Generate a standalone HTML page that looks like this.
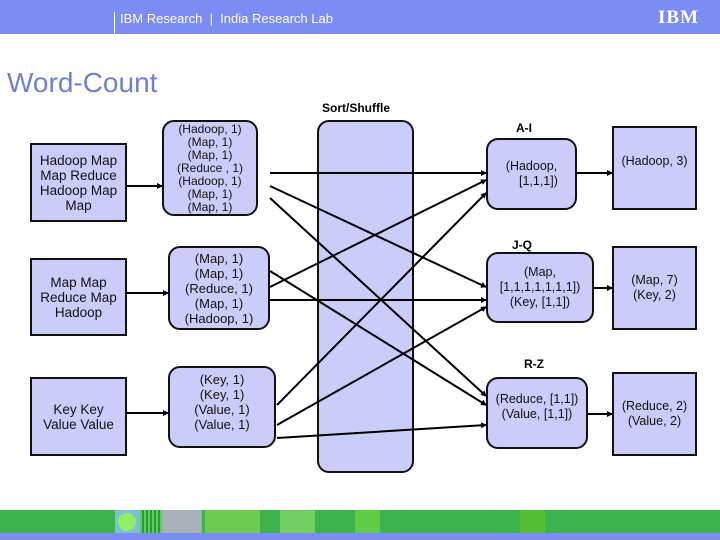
<!DOCTYPE html>
<html><head><meta charset="utf-8"><style>
body{margin:0;width:720px;height:540px;background:#fff;position:relative;overflow:hidden;font-family:"Liberation Sans",sans-serif}
.hdr{position:absolute;left:0;top:0;width:720px;height:34px;background:#7b8cf5}
.ht{position:absolute;left:120px;top:11px;color:#fff;font-size:13px}
.vl{position:absolute;left:114px;top:12px;width:1px;height:22px;background:#fff}
.ibm{position:absolute;left:658px;top:7px;color:#fff;font:bold 19px "Liberation Serif",serif;letter-spacing:1px}
.title{position:absolute;left:7px;top:67px;font-size:28px;color:#7080d0}
.b{position:absolute;box-sizing:border-box;border:2px solid #111;background:#ccccfb;display:flex;align-items:center;justify-content:center;text-align:center;font-size:12.5px;line-height:15px;color:#111}
.lb{font-size:13.5px;line-height:15px}
.r{border-radius:12px}
.lbl{position:absolute;font-weight:bold;font-size:12px;color:#000}
.g{position:absolute;left:0;top:510px;width:720px;height:23px;background:#3bb24a}
.bb{position:absolute;left:0;top:533px;width:720px;height:7px;background:#7b8cf5}
</style></head><body>
<div class="hdr"></div><div class="vl"></div>
<div class="ht">IBM Research &nbsp;|&nbsp; India Research Lab</div>
<div class="ibm">IBM</div>
<div class="title">Word-Count</div>
<div class="lbl" style="left:322px;top:101px">Sort/Shuffle</div>
<div class="b r" style="left:317px;top:120px;width:97px;height:353px"></div>

<div class="b lb" style="left:30px;top:143px;width:97px;height:79px">Hadoop Map<br>Map Reduce<br>Hadoop Map<br>Map</div>
<div class="b lb" style="left:30px;top:258px;width:97px;height:78px">Map Map<br>Reduce Map<br>Hadoop</div>
<div class="b lb" style="left:30px;top:377px;width:97px;height:79px">Key Key<br>Value Value</div>

<div class="b r" style="left:162px;top:120px;width:96px;height:96px;font-size:12px;line-height:13px">(Hadoop, 1)<br>(Map, 1)<br>(Map, 1)<br>(Reduce , 1)<br>(Hadoop, 1)<br>(Map, 1)<br>(Map, 1)</div>
<div class="b r" style="left:168px;top:246px;width:102px;height:84px;font-size:13px">(Map, 1)<br>(Map, 1)<br>(Reduce, 1)<br>(Map, 1)<br>(Hadoop, 1)</div>
<div class="b r" style="left:168px;top:366px;width:108px;height:82px;align-items:flex-start;padding-top:4px;font-size:13px">(Key, 1)<br>(Key, 1)<br>(Value, 1)<br>(Value, 1)</div>

<div class="lbl" style="left:516px;top:121px">A-I</div>
<div class="lbl" style="left:512px;top:238px">J-Q</div>
<div class="lbl" style="left:524px;top:357px">R-Z</div>
<div class="b r" style="left:486px;top:138px;width:91px;height:72px">(Hadoop,<br>&nbsp;&nbsp;&nbsp;&nbsp;[1,1,1])</div>
<div class="b r" style="left:486px;top:252px;width:108px;height:71px">(Map,<br>[1,1,1,1,1,1,1])<br>(Key, [1,1])</div>
<div class="b r" style="left:486px;top:377px;width:102px;height:72px;align-items:flex-start;padding-top:13px">(Reduce, [1,1])<br>(Value, [1,1])</div>

<div class="b" style="left:612px;top:126px;width:85px;height:84px;align-items:flex-start;padding-top:26px">(Hadoop, 3)</div>
<div class="b" style="left:612px;top:246px;width:85px;height:84px">(Map, 7)<br>(Key, 2)</div>
<div class="b" style="left:612px;top:372px;width:85px;height:84px">(Reduce, 2)<br>(Value, 2)</div>

<svg style="position:absolute;left:0;top:0" width="720" height="540">
<defs><marker id="a" markerWidth="6" markerHeight="6" refX="5" refY="3" orient="auto" markerUnits="userSpaceOnUse"><path d="M0,0L6,3L0,6z" fill="#000"/></marker></defs>
<g stroke="#000" stroke-width="2" marker-end="url(#a)">
<line x1="127" y1="186" x2="162" y2="186"/>
<line x1="127" y1="293" x2="168" y2="293"/>
<line x1="127" y1="413" x2="168" y2="413"/>
<line x1="270" y1="173" x2="486" y2="173"/>
<line x1="270" y1="186" x2="486" y2="287"/>
<line x1="270" y1="198" x2="486" y2="396"/>
<line x1="270" y1="271" x2="486" y2="405"/>
<line x1="270" y1="287" x2="486" y2="180"/>
<line x1="270" y1="300" x2="486" y2="300"/>
<line x1="277" y1="405" x2="486" y2="193"/>
<line x1="277" y1="425" x2="486" y2="307"/>
<line x1="277" y1="438" x2="486" y2="425"/>
<line x1="577" y1="173" x2="612" y2="173"/>
<line x1="594" y1="288" x2="612" y2="288"/>
<line x1="588" y1="414" x2="612" y2="414"/>
</g></svg>

<div class="g"></div>
<div style="position:absolute;left:115px;top:510px;width:25px;height:23px;background:#7bbfd8"></div>
<div style="position:absolute;left:118px;top:513px;width:18px;height:18px;border-radius:50%;background:#8ef060"></div>
<div style="position:absolute;left:140px;top:510px;width:22px;height:23px;background:repeating-linear-gradient(90deg,#5ccf5a 0 2px,#2a9a3a 2px 4px)"></div>
<div style="position:absolute;left:162px;top:510px;width:40px;height:23px;background:#a8b0b8"></div>
<div style="position:absolute;left:205px;top:510px;width:55px;height:23px;background:#6dcc50"></div>
<div style="position:absolute;left:280px;top:510px;width:35px;height:23px;background:#72d060"></div>
<div style="position:absolute;left:355px;top:510px;width:25px;height:23px;background:#5fcc45"></div>
<div style="position:absolute;left:520px;top:510px;width:25px;height:23px;background:#52be35"></div>
<div class="bb"></div>
</body></html>
